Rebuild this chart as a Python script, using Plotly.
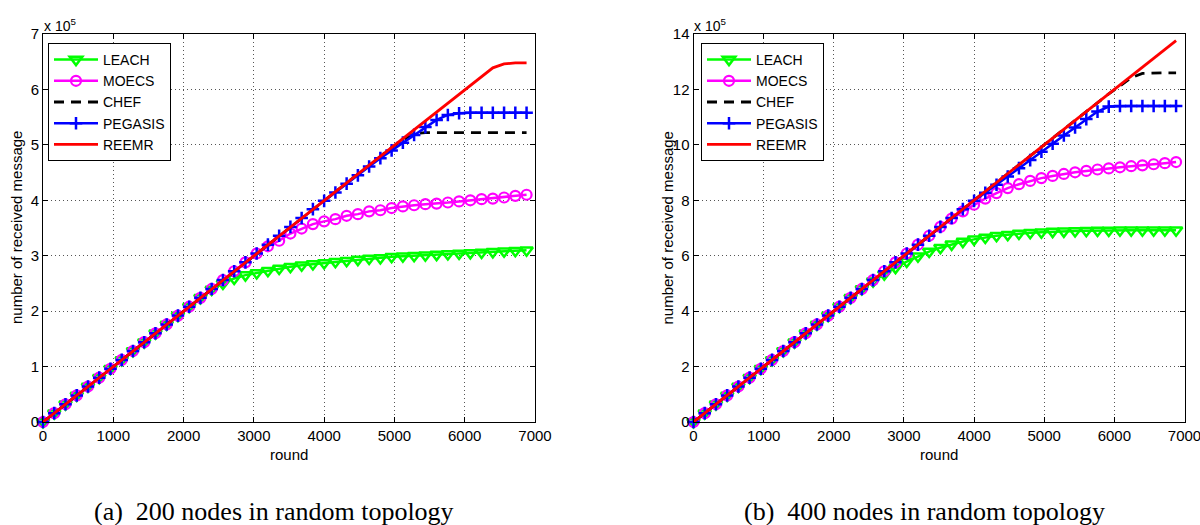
import plotly.graph_objects as go

# ---------------- data (values in units of 10^5 received messages) ----------------
rounds = [0, 160, 320, 480, 640, 800, 960, 1120, 1280, 1440, 1600, 1760, 1920, 2080,
          2240, 2400, 2560, 2720, 2880, 3040, 3200, 3360, 3520, 3680, 3840, 4000, 4160,
          4320, 4480, 4640, 4800, 4960, 5120, 5280, 5440, 5600, 5760, 5920, 6080, 6240,
          6400, 6560, 6720, 6880]

series_names = ["LEACH", "MOECS", "CHEF", "PEGASIS", "REEMR"]

# (a) 200 nodes
leach_200 = [0, 0.16, 0.32, 0.48, 0.64, 0.80, 0.96, 1.12, 1.28, 1.44, 1.60, 1.76, 1.92, 2.08,
             2.24, 2.39, 2.50, 2.59, 2.65, 2.69, 2.73, 2.77, 2.80, 2.83, 2.85, 2.87, 2.89,
             2.91, 2.93, 2.95, 2.96, 2.98, 2.99, 3.00, 3.01, 3.02, 3.03, 3.04, 3.05, 3.06,
             3.07, 3.08, 3.09, 3.10]
moecs_200 = [0, 0.16, 0.32, 0.48, 0.64, 0.80, 0.96, 1.12, 1.28, 1.44, 1.60, 1.76, 1.92, 2.08,
             2.24, 2.40, 2.56, 2.72, 2.88, 3.04, 3.17, 3.27, 3.40, 3.49, 3.57, 3.62, 3.66,
             3.72, 3.75, 3.80, 3.82, 3.86, 3.89, 3.91, 3.93, 3.94, 3.96, 3.98, 4.00, 4.02,
             4.03, 4.05, 4.08, 4.10]
chef_200 = [0, 0.16, 0.32, 0.48, 0.64, 0.80, 0.96, 1.12, 1.28, 1.44, 1.60, 1.76, 1.92, 2.08,
            2.24, 2.40, 2.56, 2.72, 2.88, 3.04, 3.20, 3.36, 3.52, 3.68, 3.84, 4.00, 4.16,
            4.32, 4.47, 4.63, 4.79, 4.95, 5.09, 5.20, 5.22, 5.22, 5.22, 5.22, 5.22, 5.22,
            5.22, 5.22, 5.22, 5.22]
pegasis_200 = [0, 0.16, 0.32, 0.48, 0.64, 0.80, 0.96, 1.12, 1.28, 1.44, 1.60, 1.76, 1.92, 2.08,
               2.24, 2.40, 2.56, 2.72, 2.88, 3.04, 3.20, 3.36, 3.52, 3.68, 3.84, 3.99, 4.14,
               4.30, 4.45, 4.61, 4.76, 4.90, 5.04, 5.18, 5.32, 5.45, 5.54, 5.57, 5.58, 5.58,
               5.58, 5.58, 5.58, 5.58]
reemr_200 = [0, 0.16, 0.32, 0.48, 0.64, 0.80, 0.96, 1.12, 1.28, 1.44, 1.60, 1.76, 1.92, 2.08,
             2.24, 2.40, 2.56, 2.72, 2.88, 3.04, 3.20, 3.36, 3.52, 3.68, 3.84, 4.00, 4.16,
             4.32, 4.48, 4.64, 4.80, 4.96, 5.12, 5.28, 5.44, 5.60, 5.76, 5.92, 6.08, 6.24,
             6.39, 6.46, 6.48, 6.48]

# (b) 400 nodes
leach_400 = [0, 0.32, 0.64, 0.96, 1.28, 1.60, 1.92, 2.24, 2.56, 2.88, 3.20, 3.52, 3.84, 4.16,
             4.48, 4.80, 5.08, 5.33, 5.57, 5.79, 5.98, 6.15, 6.29, 6.41, 6.51, 6.59, 6.66,
             6.72, 6.76, 6.80, 6.83, 6.85, 6.87, 6.88, 6.89, 6.90, 6.91, 6.91, 6.92, 6.92,
             6.92, 6.92, 6.92, 6.92]
moecs_400 = [0, 0.32, 0.64, 0.96, 1.28, 1.60, 1.92, 2.24, 2.56, 2.88, 3.20, 3.52, 3.84, 4.16,
             4.48, 4.80, 5.12, 5.44, 5.76, 6.08, 6.40, 6.72, 7.04, 7.34, 7.60, 7.84, 8.06,
             8.26, 8.44, 8.58, 8.70, 8.80, 8.88, 8.95, 9.01, 9.06, 9.11, 9.15, 9.19, 9.23,
             9.26, 9.30, 9.34, 9.38]
chef_400 = [0, 0.32, 0.64, 0.96, 1.28, 1.60, 1.92, 2.24, 2.56, 2.88, 3.20, 3.52, 3.84, 4.16,
            4.48, 4.80, 5.12, 5.44, 5.76, 6.08, 6.40, 6.72, 7.04, 7.36, 7.68, 8.00, 8.32,
            8.64, 8.96, 9.28, 9.60, 9.92, 10.24, 10.56, 10.88, 11.20, 11.52, 11.84, 12.12,
            12.42, 12.58, 12.60, 12.60, 12.60]
pegasis_400 = [0, 0.32, 0.64, 0.96, 1.28, 1.60, 1.92, 2.24, 2.56, 2.88, 3.20, 3.52, 3.84, 4.16,
               4.48, 4.80, 5.12, 5.44, 5.76, 6.08, 6.40, 6.72, 7.04, 7.36, 7.68, 7.98, 8.27,
               8.56, 8.86, 9.16, 9.45, 9.75, 10.04, 10.34, 10.63, 10.93, 11.20, 11.38, 11.40,
               11.40, 11.40, 11.40, 11.40, 11.40]
reemr_400 = [0, 0.32, 0.64, 0.96, 1.28, 1.60, 1.92, 2.24, 2.56, 2.88, 3.20, 3.52, 3.84, 4.16,
             4.48, 4.80, 5.12, 5.44, 5.76, 6.08, 6.40, 6.72, 7.04, 7.36, 7.68, 8.00, 8.32,
             8.64, 8.96, 9.28, 9.60, 9.92, 10.24, 10.56, 10.88, 11.20, 11.52, 11.84, 12.16,
             12.48, 12.80, 13.12, 13.44, 13.76]

x_ticks = [0, 1000, 2000, 3000, 4000, 5000, 6000, 7000]
y_ticks_200 = [0, 1, 2, 3, 4, 5, 6, 7]
y_ticks_400 = [0, 2, 4, 6, 8, 10, 12, 14]

x_title = "round"
y_title = "number of received message"
captions = ["(a)\u00a0 200 nodes in random topology", "(b)\u00a0 400 nodes in random topology"]

# ---------------- layout helpers ----------------
W, H = 1200, 525
SANS = "Liberation Sans, Arial, Helvetica, sans-serif"
SERIF = "Liberation Serif, Times New Roman, serif"
FS = 15

def px_x(p):
    return p / W

def px_y(p):
    return 1 - p / H

panels = [
    dict(x0=43, x1=535, data=[leach_200, moecs_200, chef_200, pegasis_200, reemr_200],
         yticks=y_ticks_200, yrange=[0, 7], legend="legend", leg_x=48),
    dict(x0=693.5, x1=1184.5, data=[leach_400, moecs_400, chef_400, pegasis_400, reemr_400],
         yticks=y_ticks_400, yrange=[0, 14], legend="legend2", leg_x=701),
]
TOP, BOTTOM = 34, 422

styles = {
    "LEACH": dict(mode="lines+markers", line=dict(color="#00ff00", width=2.5),
                  marker=dict(symbol="triangle-down-open", size=11, color="#00ff00",
                              line=dict(width=2.5, color="#00ff00"))),
    "MOECS": dict(mode="lines+markers", line=dict(color="#ff00ff", width=2.5),
                  marker=dict(symbol="circle-open", size=10, color="#ff00ff",
                              line=dict(width=2.2, color="#ff00ff"))),
    "CHEF": dict(mode="lines", line=dict(color="#000000", width=2.8, dash="10px,7px")),
    "PEGASIS": dict(mode="lines+markers", line=dict(color="#0000ff", width=2.5),
                    marker=dict(symbol="cross-thin", size=9, color="#0000ff",
                                line=dict(width=2.5, color="#0000ff"))),
    "REEMR": dict(mode="lines", line=dict(color="#ff0000", width=2.8)),
}

fig = go.Figure()
annotations = []
layout_axes = {}

for i, p in enumerate(panels):
    n = "" if i == 0 else str(i + 1)
    xa, ya = "x" + n, "y" + n
    for name, vals in zip(series_names, p["data"]):
        fig.add_trace(go.Scatter(x=rounds, y=vals, name=name, xaxis=xa, yaxis=ya,
                                 legend=p["legend"], cliponaxis=False, **styles[name]))
    common = dict(showline=True, linecolor="black", linewidth=1, mirror="ticks",
                  ticks="inside", ticklen=5, tickcolor="black", tickwidth=1,
                  showgrid=True, gridcolor="#555555", gridwidth=1, griddash="1px,3px",
                  zeroline=False, tickfont=dict(family=SANS, size=FS, color="black"),
                  ticklabeloverflow="allow", automargin=False)
    layout_axes["xaxis" + n] = dict(domain=[px_x(p["x0"]), px_x(p["x1"])], range=[0, 7000],
                                    tickvals=x_ticks, anchor=ya, **common)
    layout_axes["yaxis" + n] = dict(domain=[px_y(BOTTOM), px_y(TOP)], range=p["yrange"],
                                    tickvals=p["yticks"], anchor=xa, **common)
    cx = (p["x0"] + p["x1"]) / 2
    annotations += [
        dict(text=x_title, x=px_x(cx), y=px_y(454), xref="paper", yref="paper",
             showarrow=False, xanchor="center", yanchor="middle",
             font=dict(family=SANS, size=FS, color="black")),
        dict(text=y_title, x=px_x(p["x0"] - 27), y=px_y((TOP + BOTTOM) / 2), xref="paper",
             yref="paper", showarrow=False, textangle=-90, xanchor="center", yanchor="middle",
             font=dict(family=SANS, size=FS, color="black")),
        dict(text="x 10<sup>5</sup>", x=px_x(p["x0"] - 1), y=px_y(36), xref="paper",
             yref="paper", showarrow=False, xanchor="left", yanchor="bottom",
             font=dict(family=SANS, size=FS - 1, color="black")),
        dict(text=captions[i], x=px_x(cx - 15), y=px_y(511), xref="paper", yref="paper",
             showarrow=False, xanchor="center", yanchor="middle",
             font=dict(family=SERIF, size=26, color="black")),
    ]

legend_common = dict(bgcolor="white", bordercolor="black", borderwidth=1,
                     font=dict(family=SANS, size=14, color="black"), itemwidth=44,
                     xanchor="left", yanchor="top", tracegroupgap=0)

fig.update_layout(
    width=W, height=H, margin=dict(l=0, r=0, t=0, b=0),
    paper_bgcolor="white", plot_bgcolor="white",
    showlegend=True,
    legend=dict(x=px_x(panels[0]["leg_x"]), y=px_y(43), **legend_common),
    legend2=dict(x=px_x(panels[1]["leg_x"]), y=px_y(43), **legend_common),
    annotations=annotations,
    **layout_axes,
)

fig.write_html("out.html", config={"displayModeBar": False},
               post_script="document.body.style.margin='0';document.body.style.overflow='hidden';")
